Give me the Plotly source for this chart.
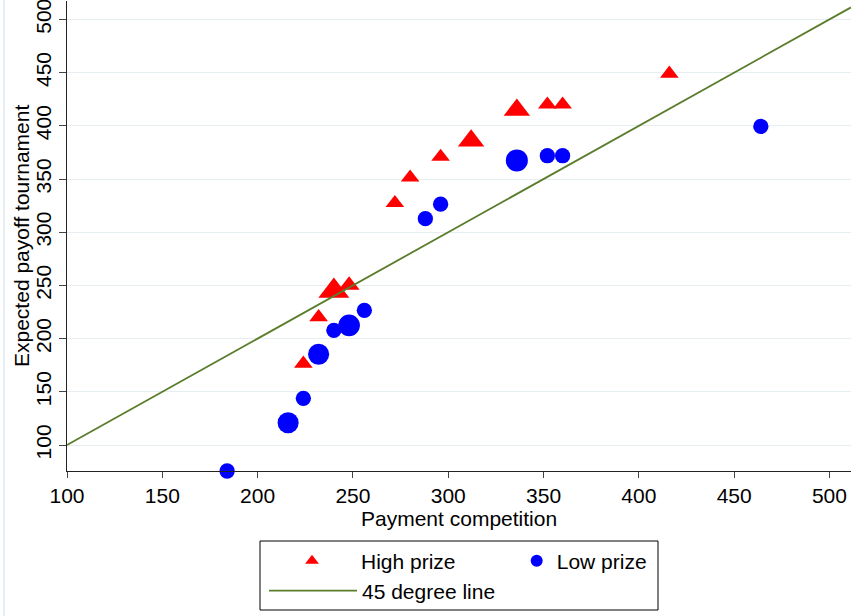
import numpy as np
import plotly.graph_objects as go

# ---- data ----
high_x = [224, 232, 240, 248, 272, 280, 296, 312, 336, 352, 360, 416]
high_y = [176.5, 220.2, 244.8, 250.1, 327.4, 351.4, 370.9, 385.9, 414.9, 420.0, 420.0, 449.0]
high_w = [1, 1, 2.74, 1.26, 1, 1, 1, 2, 2, 1, 1, 1]

low_x = [184, 216, 224, 232, 240, 248, 256, 288, 296, 336, 352, 360, 464]
low_y = [75.6, 121.0, 143.9, 185.3, 207.8, 212.5, 226.6, 312.7, 326.4, 367.5, 371.9, 371.9, 399.4]
low_w = [1, 1.9, 1, 1.9, 1, 2, 1, 1, 1, 2.07, 1, 1, 1]

x_range = [100, 511.3]
y_range = [75.6, 517.3]
tick_vals = [100, 150, 200, 250, 300, 350, 400, 450, 500]
tick_text = [str(v) for v in tick_vals]

x_title = "Payment competition"
y_title = "Expected payoff tournament"

FONT = "Liberation Sans, Arial, sans-serif"
FS = 21

tri_size = 16.2 * np.sqrt(np.array(high_w))
circ_size = 15.3 * np.sqrt(np.array(low_w))

fig = go.Figure()
fig.add_trace(go.Scatter(
    x=high_x, y=high_y, mode="markers", name="High prize",
    marker=dict(symbol="triangle-up", color="#ff0000", size=tri_size, opacity=1, line=dict(width=0)),
    cliponaxis=False, legend="legend",
))
fig.add_trace(go.Scatter(
    x=low_x, y=low_y, mode="markers", name="Low prize",
    marker=dict(symbol="circle", color="#0000ff", size=circ_size, opacity=1, line=dict(width=0)),
    cliponaxis=False, legend="legend2",
))
fig.add_trace(go.Scatter(
    x=x_range, y=x_range, mode="lines", name="45 degree line",
    line=dict(color="#5a7d2c", width=1.8),
    legend="legend3",
))

L, R, T, B = 67, 2, 1, 145
W, H = 853, 616
pw = W - L - R
ph = H - T - B

def px_x(p):
    return (p - L) / pw

def px_y(p):
    return (H - B - p) / ph

leg_common = dict(
    orientation="h", bgcolor="rgba(0,0,0,0)", borderwidth=0,
    font=dict(family=FONT, size=FS, color="black"),
    xanchor="left", yanchor="middle",
)

fig.update_layout(
    width=W, height=H,
    margin=dict(l=L, r=R, t=T, b=B, autoexpand=False),
    paper_bgcolor="white", plot_bgcolor="white",
    font=dict(family=FONT, size=FS, color="black"),
    showlegend=True,
    legend=dict(x=px_x(263), y=px_y(561), itemwidth=88, itemsizing="constant", **leg_common),
    legend2=dict(x=px_x(516.7), y=px_y(561), itemwidth=30, itemsizing="constant", **leg_common),
    legend3=dict(x=px_x(264), y=px_y(591), itemwidth=88, **leg_common),
    xaxis=dict(
        range=x_range, tickvals=tick_vals, ticktext=tick_text,
        showgrid=False, zeroline=False, automargin=False,
        showline=True, linecolor="#222222", linewidth=1,
        ticks="outside", ticklen=6, tickcolor="#444444", tickwidth=1,
        tickfont=dict(family=FONT, size=FS, color="black"),
        ticklabeloverflow="allow",
    ),
    yaxis=dict(
        range=y_range, tickvals=tick_vals, ticktext=tick_text, tickangle=-90,
        showgrid=True, gridcolor="#e6eef1", gridwidth=1.3, zeroline=False, automargin=False,
        showline=True, linecolor="#222222", linewidth=1,
        ticks="outside", ticklen=7, tickcolor="#444444", tickwidth=1,
        tickfont=dict(family=FONT, size=FS, color="black"),
        ticklabeloverflow="allow",
    ),
    annotations=[
        dict(text=x_title, xref="paper", yref="paper", x=px_x(459), y=px_y(518),
             xanchor="center", yanchor="middle", showarrow=False,
             font=dict(family=FONT, size=FS, color="black")),
        dict(text=y_title, xref="paper", yref="paper", x=px_x(21), y=0.5, textangle=-90,
             xanchor="center", yanchor="middle", showarrow=False,
             font=dict(family=FONT, size=FS, color="black")),
    ],
    shapes=[
        dict(
            type="rect", xref="paper", yref="paper",
            x0=px_x(260), x1=px_x(658), y0=px_y(610), y1=px_y(541),
            line=dict(color="black", width=1), fillcolor="rgba(0,0,0,0)",
        ),
        dict(
            type="line", xref="paper", yref="paper",
            x0=px_x(4), x1=px_x(4), y0=px_y(616), y1=px_y(0),
            line=dict(color="#dce8ee", width=1.5),
        ),
    ],
)

fig.write_html(
    "out.html",
    config={"displayModeBar": False},
    post_script="document.body.style.margin='0';document.body.style.padding='0';",
)
